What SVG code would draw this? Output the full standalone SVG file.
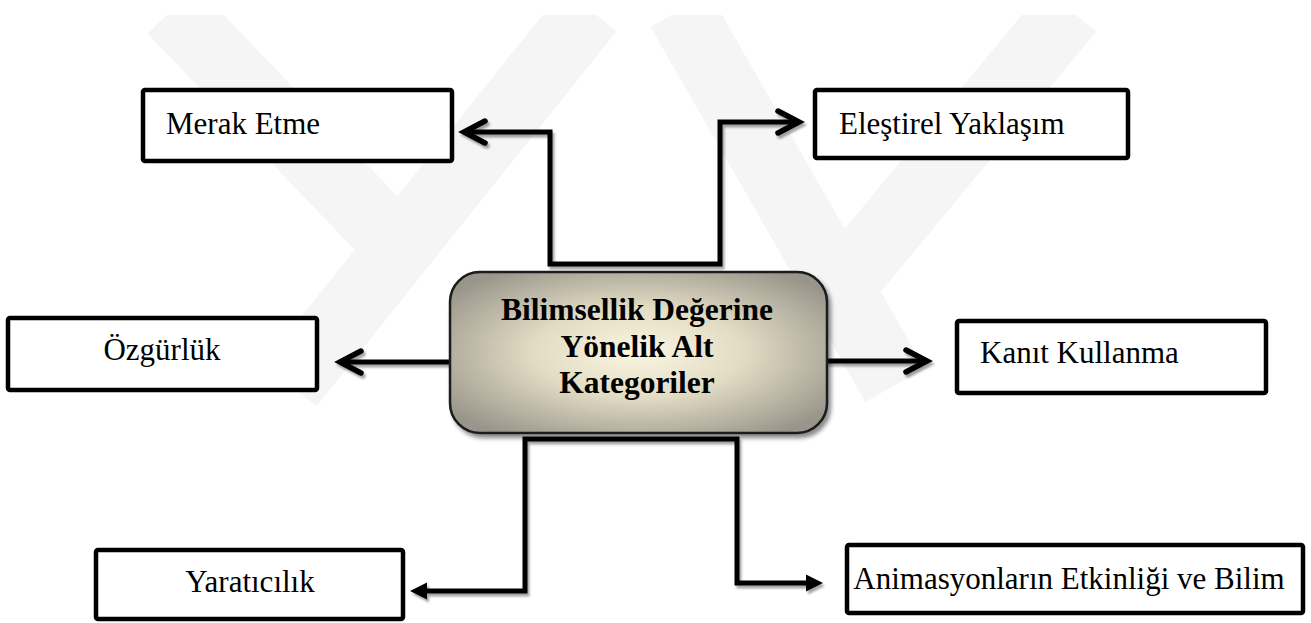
<svg xmlns="http://www.w3.org/2000/svg" width="1311" height="623" viewBox="0 0 1311 623">
<style>
.box{fill:#fff;stroke:#000;stroke-width:4.5}
.lbl{font-family:"Liberation Serif","Times New Roman",serif;font-size:31px;fill:#000}
.ctr{font-family:"Liberation Serif","Times New Roman",serif;font-size:31.5px;font-weight:bold;fill:#000;text-anchor:middle}
.wm{stroke:#f5f5f5;stroke-width:68;fill:none;stroke-linecap:butt}
.con{fill:none;stroke:#000;stroke-width:5;stroke-linejoin:miter}
</style>
<defs>
<radialGradient id="cg" cx="0.5" cy="0.5" r="0.62">
<stop offset="0" stop-color="#fbf6e1"/>
<stop offset="0.45" stop-color="#e2dcc4"/>
<stop offset="1" stop-color="#99958a"/>
</radialGradient>
<clipPath id="wmclip"><rect x="0" y="15" width="1311" height="608"/></clipPath>
<filter id="sh" x="-10%" y="-10%" width="130%" height="130%">
<feDropShadow dx="3" dy="4" stdDeviation="2" flood-color="#000" flood-opacity="0.45"/>
</filter>
<filter id="lsh" x="-20%" y="-20%" width="140%" height="140%">
<feDropShadow dx="2" dy="3" stdDeviation="1.2" flood-color="#000" flood-opacity="0.35"/>
</filter>
<marker id="chev" markerUnits="userSpaceOnUse" markerWidth="40" markerHeight="40" refX="0" refY="0" orient="auto" overflow="visible">
<path d="M -21 -11 L 0 0 L -21 11" fill="none" stroke="#000" stroke-width="5.5" stroke-linecap="round" stroke-linejoin="miter"/>
</marker>
<marker id="tri" markerUnits="userSpaceOnUse" markerWidth="40" markerHeight="40" refX="0" refY="0" orient="auto" overflow="visible">
<path d="M -4 -8.5 L 13 0 L -4 8.5 Z" fill="#000"/>
</marker>
</defs>
<rect width="1311" height="623" fill="#fff"/>
<g id="watermark" clip-path="url(#wmclip)">
<line class="wm" x1="172" y1="10" x2="402" y2="250"/>
<line class="wm" x1="590" y1="10" x2="290" y2="385"/>
<line class="wm" x1="680" y1="10" x2="895" y2="385"/>
<line class="wm" x1="1070" y1="10" x2="830" y2="300"/>
</g>
<g id="connectors" filter="url(#lsh)">
<path class="con" d="M 636 264 H 550 V 132 H 464" marker-end="url(#chev)"/>
<path class="con" d="M 636 264 H 720 V 122 H 799" marker-end="url(#chev)"/>
<path class="con" d="M 452 362 H 340" marker-end="url(#chev)"/>
<path class="con" d="M 826 361 H 927" marker-end="url(#chev)"/>
<path class="con" d="M 632 439 H 525 V 591 H 423" marker-end="url(#tri)"/>
<path class="con" d="M 632 439 H 737 V 583 H 810" marker-end="url(#tri)"/>
</g>
<g id="center">
<rect x="450" y="272" width="377" height="161" rx="30" fill="url(#cg)" stroke="#1a1a1a" stroke-width="2.5" filter="url(#sh)"/>
<text class="ctr" x="637" y="320">Bilimsellik Değerine</text>
<text class="ctr" x="637" y="357">Yönelik Alt</text>
<text class="ctr" x="637" y="393">Kategoriler</text>
</g>
<g id="merak">
<rect class="box" x="143" y="90" width="309" height="71" rx="2"/>
<text class="lbl" x="166" y="134">Merak Etme</text>
</g>
<g id="elestirel">
<rect class="box" x="815" y="90" width="313" height="68" rx="2"/>
<text class="lbl" x="839" y="134">Eleştirel Yaklaşım</text>
</g>
<g id="ozgurluk">
<rect class="box" x="8" y="318" width="309" height="72" rx="2"/>
<text class="lbl" x="162" y="360" text-anchor="middle">Özgürlük</text>
</g>
<g id="kanit">
<rect class="box" x="957" y="321" width="309" height="72" rx="2"/>
<text class="lbl" x="980" y="363">Kanıt Kullanma</text>
</g>
<g id="yaraticilik">
<rect class="box" x="96" y="550" width="307" height="69" rx="2"/>
<text class="lbl" x="250" y="592" text-anchor="middle">Yaratıcılık</text>
</g>
<g id="animasyon">
<rect class="box" x="847" y="545" width="456" height="68" rx="2"/>
<text class="lbl" x="1069" y="589" text-anchor="middle">Animasyonların Etkinliği ve Bilim</text>
</g>
</svg>
